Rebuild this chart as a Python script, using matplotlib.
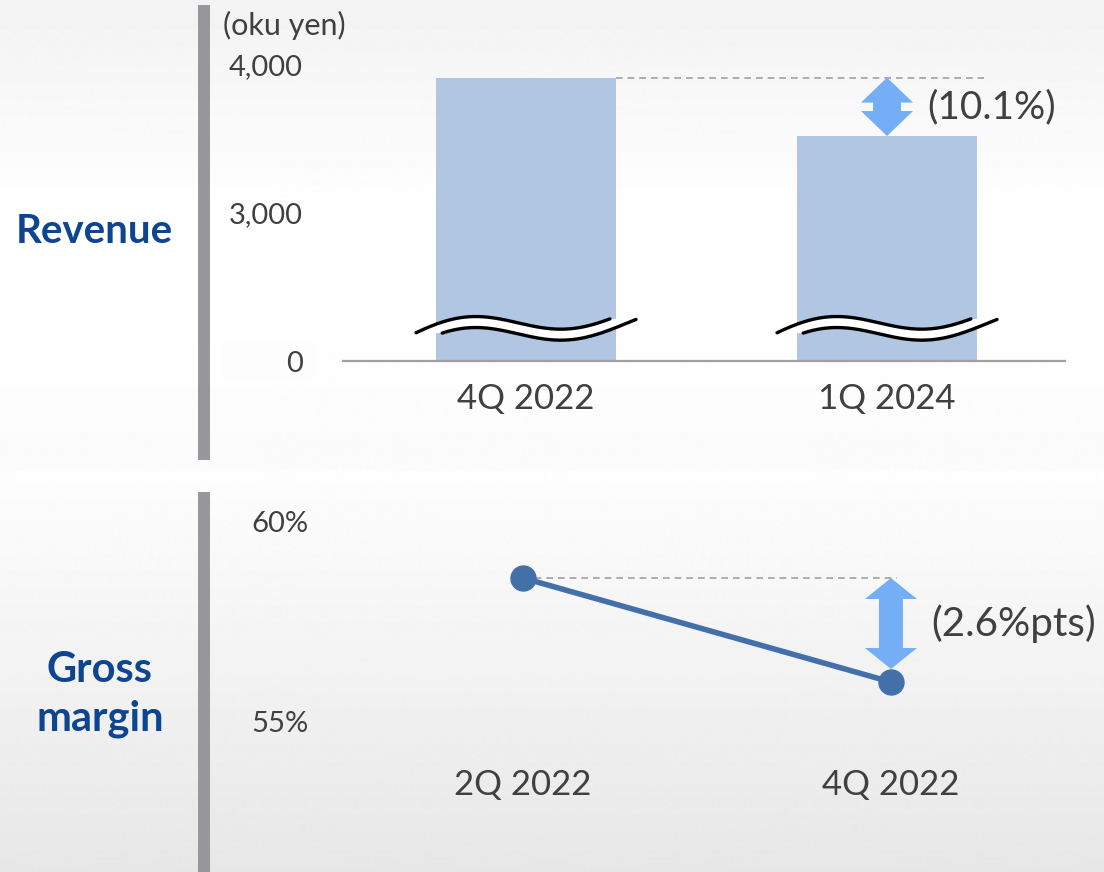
"""
Revenue (broken axis bars) and gross margin (two-point line) comparison panel.
Saves out.png at 1104x872.
"""
import numpy as np
import matplotlib.pyplot as plt
from matplotlib.patches import Rectangle, Polygon

# data
rev_labels = ["4Q 2022", "1Q 2024"]
rev_values = [3915, 3520]           # oku yen
rev_ticks = [2000, 3000, 4000]      # axis is broken: 2000 is drawn as "0"
rev_tick_labels = ["0", "3,000", "4,000"]
rev_change = "(10.1%)"

gm_labels = ["2Q 2022", "4Q 2022"]
gm_values = [58.6, 56.0]            # %
gm_ticks = [55, 60]
gm_tick_labels = ["55%", "60%"]
gm_change = "(2.6%pts)"

# colours
BAR = "#b0c6e2"
LINE = "#4470aa"
ARROW = "#74aef7"
TXT = "#404040"
BLUE = "#0d4590"
GRAYBAR = "#98979c"

W, H = 1104, 872
plt.rcParams['font.family'] = ['Lato', 'DejaVu Sans']


def px_scale(ax):
    """data units per pixel in x and y for an axes"""
    bb = ax.get_position()
    x0, x1 = ax.get_xlim()
    y0, y1 = ax.get_ylim()
    return (x1 - x0) / (bb.width * W), (y1 - y0) / (bb.height * H)


def double_arrow(ax, cx, ytop, ybot, head_w, head_h, shaft_w):
    sx, sy = px_scale(ax)
    hw, sw = head_w / 2 * sx, shaft_w / 2 * sx
    hh = head_h * sy
    pts = [(cx, ytop), (cx + hw, ytop - hh), (cx + sw, ytop - hh),
           (cx + sw, ybot + hh), (cx + hw, ybot + hh), (cx, ybot),
           (cx - hw, ybot + hh), (cx - sw, ybot + hh), (cx - sw, ytop - hh),
           (cx - hw, ytop - hh)]
    ax.add_patch(Polygon(pts, closed=True, color=ARROW, lw=0, zorder=5, clip_on=False))


def break_mark(ax, cx, ybase):
    """wavy double line across a bar to show the broken axis"""
    sx, sy = px_scale(ax)
    dx = np.linspace(-110, 110, 220)
    up = 7 * np.cos(2 * np.pi * (dx + 57) / 190) + 9 * (dx / 110) ** 3
    upper = up + 5.5
    lower = up - 5.5
    mu = dx <= 84
    ml = dx >= -84
    xs = cx + dx * sx
    poly = list(zip(xs[mu], ybase + upper[mu] * sy)) + \
        list(zip(xs[ml][::-1], ybase + lower[ml][::-1] * sy))
    ax.add_patch(Polygon(poly, closed=True, color="white", lw=0, zorder=6, clip_on=False))
    ax.plot(xs[mu], ybase + upper[mu] * sy, color="black", lw=2.4, zorder=7,
            solid_capstyle="round", clip_on=False)
    ax.plot(xs[ml], ybase + lower[ml] * sy, color="black", lw=2.4, zorder=7,
            solid_capstyle="round", clip_on=False)


fig = plt.figure(figsize=(W / 100, H / 100), dpi=100)

# background gradient + decorations in pixel coords
bg = fig.add_axes([0, 0, 1, 1], zorder=-10)
rows = np.arange(H)
shade = np.where(rows <= 470,
                 np.interp(rows, [0, 220, 300, 470], [0.95, 1.0, 1.0, 0.985]),
                 np.interp(rows, [471, 872], [0.995, 0.905]))
grad = np.repeat(shade[:, None], 2, axis=1)
bg.imshow(grad, cmap="gray", vmin=0, vmax=1, aspect="auto", extent=(0, W, H, 0))
bg.set_xlim(0, W)
bg.set_ylim(H, 0)
bg.axis("off")
bg.add_patch(Rectangle((198, 5), 12, 455, color=GRAYBAR, lw=0))
bg.add_patch(Rectangle((198, 492), 12, 380, color=GRAYBAR, lw=0))
bg.add_patch(Rectangle((222, 340), 94, 40, color="#fdfdfd", lw=0))
bg.text(94, 243, "Revenue", color=BLUE, fontsize=29, fontweight="bold",
        ha="center", va="baseline")
bg.text(100, 682, "Gross", color=BLUE, fontsize=30, fontweight="bold",
        ha="center", va="baseline")
bg.text(100, 730, "margin", color=BLUE, fontsize=30, fontweight="bold",
        ha="center", va="baseline")
bg.text(223, 25, "(oku yen)", color=TXT, fontsize=22, ha="left", va="center")

# revenue bars
ax1 = fig.add_axes([343 / W, (H - 361) / H, 722 / W, 296 / H])
ax1.patch.set_alpha(0)
x1 = np.arange(len(rev_values))
ax1.bar(x1, rev_values, width=0.5, color=BAR, zorder=2)
ax1.set_xlim(-0.507, 1.493)
ax1.set_ylim(2000, 4000)
ax1.set_yticks(rev_ticks, rev_tick_labels)
ax1.set_xticks(x1, rev_labels)
for s in ["top", "right", "left"]:
    ax1.spines[s].set_visible(False)
ax1.spines["bottom"].set_color("#a0a0a0")
ax1.spines["bottom"].set_linewidth(1.6)
ax1.tick_params(axis="y", length=0, pad=29, labelsize=21, labelcolor=TXT)
ax1.tick_params(axis="x", length=0, pad=16, labelsize=25, labelcolor=TXT)

sx1, _ = px_scale(ax1)
ax1.plot([x1[0] + 0.25, x1[1] + 0.25 + 7 * sx1], [rev_values[0]] * 2, ls=(0, (4, 3)),
         color="#a0a0a0", lw=1.2, zorder=3, clip_on=False)
double_arrow(ax1, x1[1], rev_values[0], rev_values[1], 52, 25, 28)
ax1.annotate(rev_change, xy=(x1[1], (rev_values[0] + rev_values[1]) / 2),
             xytext=(29, 0), textcoords="offset points", va="center", ha="left",
             fontsize=28, color=TXT)
for xi in x1:
    break_mark(ax1, xi, 2223)

# gross margin line
ax2 = fig.add_axes([343 / W, (H - 745) / H, 722 / W, 245 / H])
ax2.patch.set_alpha(0)
x2 = np.arange(len(gm_values))
ax2.plot(x2, gm_values, color=LINE, lw=4, marker="o", ms=18, zorder=4)
ax2.set_xlim(-0.489, 1.473)
ax2.set_ylim(54.425, 60.55)
ax2.set_yticks(gm_ticks, gm_tick_labels)
ax2.set_xticks(x2, gm_labels)
for s in ax2.spines.values():
    s.set_visible(False)
ax2.tick_params(axis="y", length=0, pad=25, labelsize=21, labelcolor=TXT)
ax2.tick_params(axis="x", length=0, pad=17, labelsize=25, labelcolor=TXT)

sx2, sy2 = px_scale(ax2)
ax2.plot([x2[0], x2[1] + 6 * sx2], [gm_values[0]] * 2, ls=(0, (4, 3)),
         color="#a0a0a0", lw=1.2, zorder=3)
gm_bot = gm_values[1] + 13 * sy2
double_arrow(ax2, x2[1], gm_values[0], gm_bot, 52, 21, 24)
ax2.annotate(gm_change, xy=(x2[1], (gm_values[0] + gm_bot) / 2),
             xytext=(29, 0), textcoords="offset points", va="center", ha="left",
             fontsize=29, color=TXT)

fig.savefig("out.png", dpi=100)
